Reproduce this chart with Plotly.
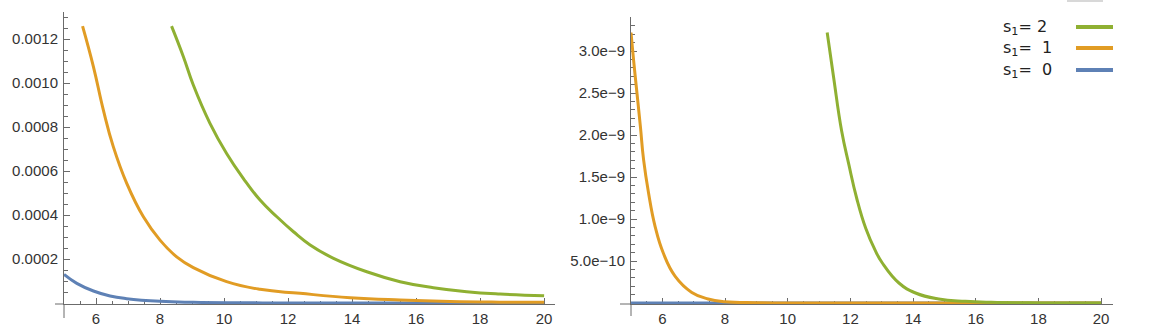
import plotly.graph_objects as go

# ---- data ----
left_x_s0 = [5.0, 5.4, 5.92, 6.44, 6.96, 8.0, 9.04, 10.5, 12.0, 14.0, 16.0, 18.0, 20.0]
left_y_s0 = [1.30e-4, 0.894e-4, 0.545e-4, 0.318e-4, 0.197e-4, 0.076e-4, 0.03e-4, 0.01e-4,
             0.004e-4, 0.001e-4, 0.0, 0.0, 0.0]

left_x_s1 = [5.58, 5.92, 6.23, 6.54, 6.96, 7.48, 8.0, 8.52, 9.04, 10.08, 11.125, 12.375,
             13.94, 15.5, 17.06, 18.6, 20.0]
left_y_s1 = [1.259e-3, 1.074e-3, 0.877e-3, 0.711e-3, 0.544e-3, 0.392e-3, 0.286e-3, 0.210e-3,
             0.161e-3, 0.097e-3, 0.0621e-3, 0.0439e-3, 0.0242e-3, 0.0136e-3, 0.007e-3,
             0.004e-3, 0.003e-3]

left_x_s2 = [8.36, 8.73, 9.04, 9.56, 10.08, 10.60, 11.125, 11.65, 12.17, 12.69, 13.42, 14.46,
             15.5, 16.54, 17.58, 18.625, 20.0]
left_y_s2 = [1.259e-3, 1.12e-3, 0.991e-3, 0.817e-3, 0.680e-3, 0.567e-3, 0.468e-3, 0.392e-3,
             0.324e-3, 0.264e-3, 0.203e-3, 0.142e-3, 0.097e-3, 0.0697e-3, 0.0515e-3,
             0.0409e-3, 0.0333e-3]

right_x_s0 = [5.0, 10.0, 15.0, 20.0]
right_y_s0 = [0.0, 0.0, 0.0, 0.0]

right_x_s1 = [5.0, 5.08, 5.19, 5.30, 5.40, 5.56, 5.77, 6.03, 6.41, 6.94, 7.46, 8.0, 9.0,
              10.0, 12.0, 14.0, 16.0, 18.0, 20.0]
right_y_s1 = [3.22e-9, 2.90e-9, 2.50e-9, 2.10e-9, 1.71e-9, 1.31e-9, 0.91e-9, 0.595e-9,
              0.317e-9, 0.126e-9, 0.048e-9, 0.015e-9, 0.003e-9, 0.001e-9, 0.0, 0.0, 0.0,
              0.0, 0.0]

right_x_s2 = [11.26, 11.46, 11.72, 11.95, 12.2, 12.49, 12.8, 13.02, 13.55, 14.08, 14.82,
              15.67, 16.5, 18.0, 20.0]
right_y_s2 = [3.22e-9, 2.70e-9, 2.05e-9, 1.65e-9, 1.25e-9, 0.89e-9, 0.62e-9, 0.476e-9,
              0.238e-9, 0.119e-9, 0.048e-9, 0.02e-9, 0.008e-9, 0.001e-9, 0.0]

x_ticks = [6, 8, 10, 12, 14, 16, 18, 20]
left_y_ticks = [0.0002, 0.0004, 0.0006, 0.0008, 0.0010, 0.0012]
left_y_labels = ["0.0002", "0.0004", "0.0006", "0.0008", "0.0010", "0.0012"]
right_y_ticks = [0.5e-9, 1.0e-9, 1.5e-9, 2.0e-9, 2.5e-9, 3.0e-9]
right_y_labels = ["5.0e\u221210", "1.0e\u22129", "1.5e\u22129", "2.0e\u22129",
                  "2.5e\u22129", "3.0e\u22129"]

legend_labels = ["s<sub>1</sub>= 2", "s<sub>1</sub>=  1", "s<sub>1</sub>=  0"]
colors = {"s0": "#5E81B5", "s1": "#E19C24", "s2": "#8FB032"}

W, H = 1150, 335
AX = "#6b6b6b"
FONT = "Liberation Sans"

fig = go.Figure()

series = [
    (left_x_s0, left_y_s0, "s0", "x", "y"),
    (left_x_s1, left_y_s1, "s1", "x", "y"),
    (left_x_s2, left_y_s2, "s2", "x", "y"),
    (right_x_s0, right_y_s0, "s0", "x2", "y2"),
    (right_x_s1, right_y_s1, "s1", "x2", "y2"),
    (right_x_s2, right_y_s2, "s2", "x2", "y2"),
]
for xs, ys, key, xa, ya in series:
    fig.add_trace(go.Scatter(
        x=xs, y=ys, mode="lines", xaxis=xa, yaxis=ya,
        line=dict(color=colors[key], width=3, shape="spline", smoothing=1.3),
        showlegend=False, hoverinfo="skip",
    ))


def px_x(p):
    return p / W


def px_y(p):
    return (H - p) / H


def xaxis_style(domain, rng):
    return dict(
        domain=domain, range=rng, tickvals=x_ticks, automargin=False,
        showline=True, linecolor=AX, linewidth=1,
        ticks="inside", ticklen=6, tickcolor=AX, tickwidth=1,
        minor=dict(tickmode="linear", tick0=5, dtick=0.5, ticks="inside",
                   ticklen=3.5, tickcolor=AX, tickwidth=1),
        showgrid=False, zeroline=False, layer="below traces",
        tickfont=dict(family=FONT, size=15, color="#333"),
        ticklabelstandoff=1,
    )


def yaxis_style(domain, rng, anchor, tv, tt, minor_step):
    return dict(
        domain=domain, range=rng, anchor=anchor, tickvals=tv, ticktext=tt,
        automargin=False,
        showline=True, linecolor=AX, linewidth=1,
        ticks="inside", ticklen=6, tickcolor=AX, tickwidth=1,
        minor=dict(tickmode="linear", tick0=0, dtick=minor_step, ticks="inside",
                   ticklen=3.5, tickcolor=AX, tickwidth=1),
        showgrid=False, zeroline=False, layer="below traces",
        tickfont=dict(family=FONT, size=15, color="#333"),
        ticklabelstandoff=2,
    )


# left panel: y axis at px 64, x axis ends px 555; y=0 at px 303, top at px 12
fig.update_layout(
    xaxis=dict(xaxis_style([px_x(64), px_x(555)], [5, 20.34]), anchor="y"),
    yaxis=yaxis_style([px_y(304), px_y(12)], [-4.5e-6, 0.001323], "x",
                      left_y_ticks, left_y_labels, 0.00005),
    xaxis2=dict(xaxis_style([px_x(631), px_x(1113)], [5, 20.38]), anchor="y2"),
    yaxis2=yaxis_style([px_y(304), px_y(17)], [-1.2e-11, 3.405e-9], "x2",
                       right_y_ticks, right_y_labels, 1e-10),
)

shapes = []
# axis extensions beyond the origin, as in the original
for x0, ext_left, ext_down in [(64, 55, 318), (631, 620, 316)]:
    shapes.append(dict(type="line", xref="paper", yref="paper",
                       x0=px_x(ext_left), x1=px_x(x0), y0=px_y(304), y1=px_y(304),
                       line=dict(color=AX, width=1)))
    shapes.append(dict(type="line", xref="paper", yref="paper",
                       x0=px_x(x0), x1=px_x(x0), y0=px_y(ext_down), y1=px_y(304),
                       line=dict(color=AX, width=1)))

# legend (text left, swatch right)
legend_colors = [colors["s2"], colors["s1"], colors["s0"]]
legend_rows = [27, 48, 70]
annotations = []
for lab, col, row in zip(legend_labels, legend_colors, legend_rows):
    annotations.append(dict(
        text=lab, xref="paper", yref="paper", x=px_x(1001), y=px_y(row + 1),
        xanchor="left", yanchor="middle", showarrow=False,
        font=dict(family="DejaVu Sans", size=16, color="#222"),
    ))
    shapes.append(dict(type="line", xref="paper", yref="paper",
                       x0=px_x(1076), x1=px_x(1113), y0=px_y(row), y1=px_y(row),
                       line=dict(color=col, width=4)))

# faint cropped frame fragment at the top edge
shapes.append(dict(type="line", xref="paper", yref="paper",
                   x0=px_x(1067), x1=px_x(1103), y0=px_y(1), y1=px_y(1),
                   line=dict(color="#d8d8d8", width=2)))

fig.update_layout(
    width=W, height=H,
    margin=dict(l=0, r=0, t=0, b=0),
    paper_bgcolor="white", plot_bgcolor="white",
    shapes=shapes, annotations=annotations,
    showlegend=False,
)

# the page body has a default 8px margin; drop it so the figure sits at (0, 0)
fig.write_html("out.html",
               config={"displayModeBar": False},
               post_script="document.body.style.margin='0';document.body.style.overflow='hidden';")
